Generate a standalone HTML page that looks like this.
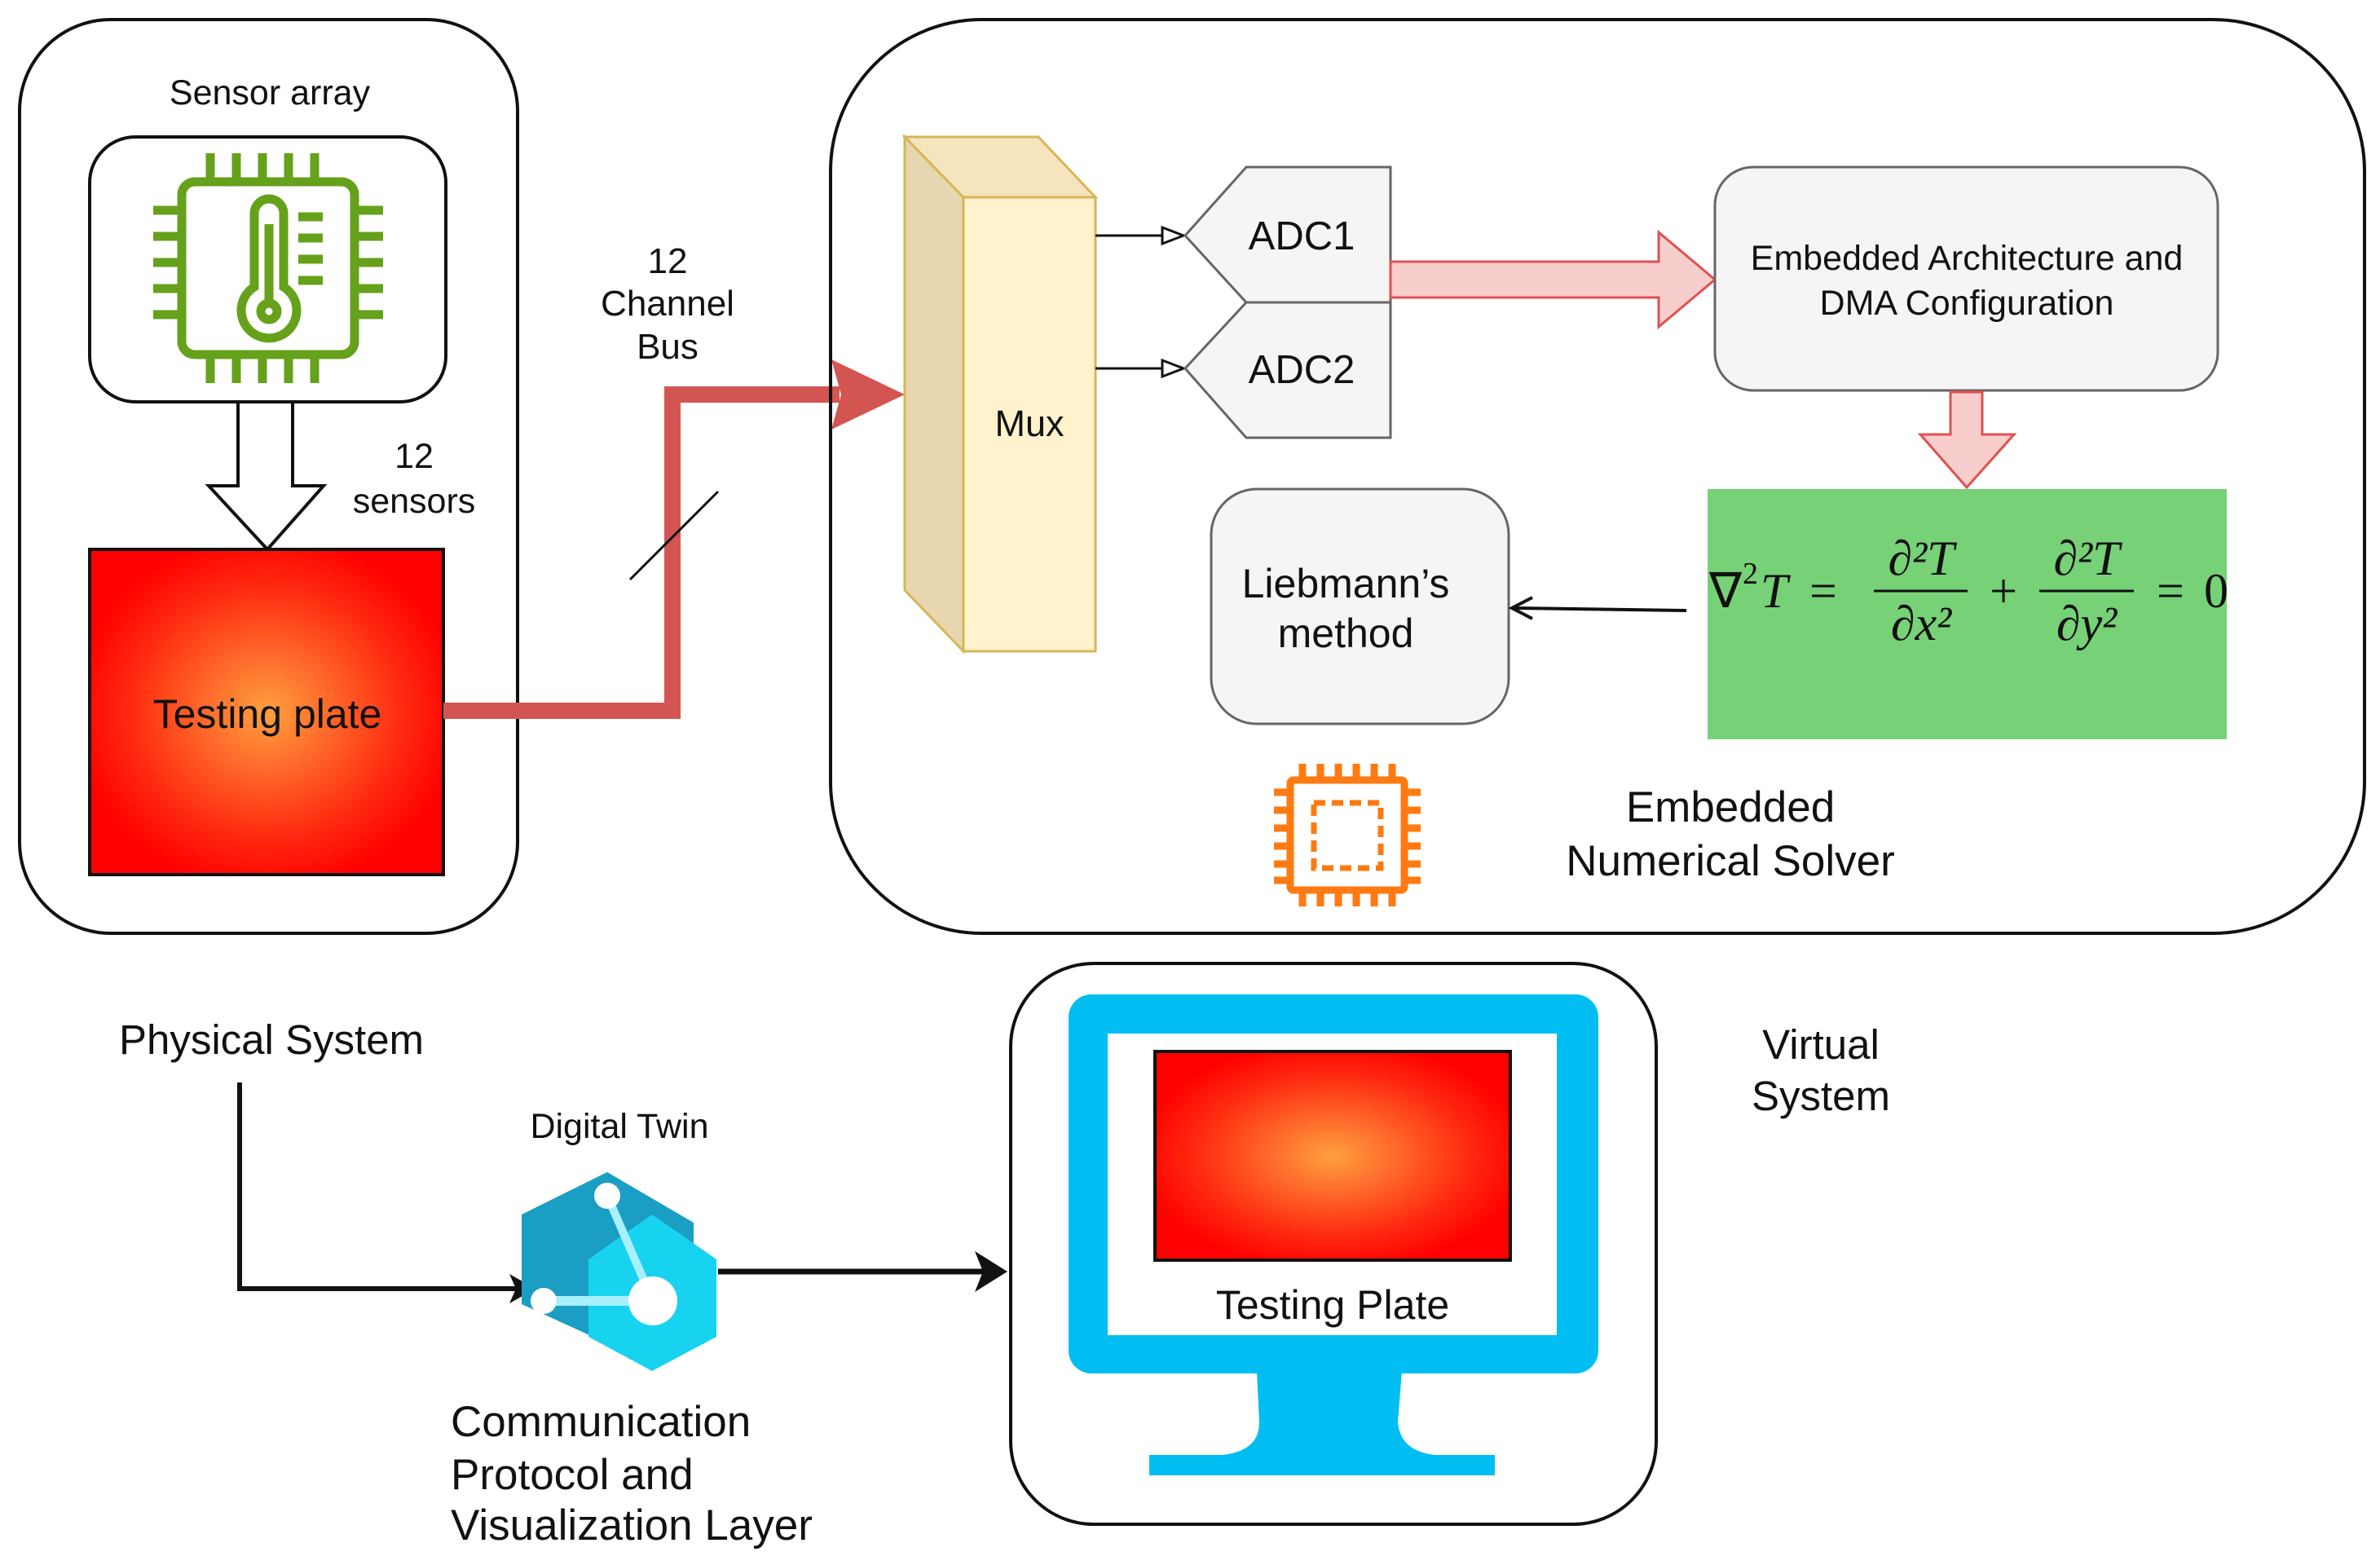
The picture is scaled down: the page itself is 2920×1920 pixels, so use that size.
<!DOCTYPE html>
<html><head><meta charset="utf-8"><style>
html,body{margin:0;padding:0;background:#fff;}
svg{display:block;}
text{font-family:"Liberation Sans",sans-serif;fill:#111;}
.m{font-family:"Liberation Serif",serif;font-style:italic;}
.r{font-family:"Liberation Serif",serif;}
</style></head><body>
<svg width="2920" height="1920" viewBox="0 0 2920 1920" xmlns="http://www.w3.org/2000/svg">
<defs>
<radialGradient id="hot" cx="50%" cy="50%" r="55%">
<stop offset="0" stop-color="#ffa040"/><stop offset="0.7" stop-color="#ff2a10"/><stop offset="1" stop-color="#ff0000"/>
</radialGradient>
</defs>

<!-- Left physical box -->
<rect x="24" y="24" width="611" height="1121" rx="112" fill="none" stroke="#111" stroke-width="4"/>
<text x="331" y="128" font-size="43" text-anchor="middle">Sensor array</text>
<rect x="110" y="168" width="437" height="325" rx="56" fill="#fff" stroke="#111" stroke-width="4"/>
<g stroke="#66a11b" stroke-width="11" fill="none">
<rect x="223" y="223" width="212" height="212" rx="16"/>
<path d="M258,188v35M290,188v35M322,188v35M354,188v35M386,188v35 M258,435v35M290,435v35M322,435v35M354,435v35M386,435v35 M188,258h35M188,290h35M188,322h35M188,354h35M188,386h35 M435,258h35M435,290h35M435,322h35M435,354h35M435,386h35"/>
<path d="M312,352 V262 a18,18 0 0 1 36,0 V352 a34,34 0 1 1 -36,0 z"/>
<circle cx="330" cy="382" r="10"/>
<path d="M330,370 V275"/>
<path d="M366,266h30M366,292h30M366,318h30M366,344h30"/>
</g>
<path d="M292,493 H359 V596 H397 L328,674 L256,596 H292 Z" fill="#fff" stroke="#111" stroke-width="4"/>
<text x="508" y="574" font-size="43" text-anchor="middle">12</text>
<text x="508" y="629" font-size="43" text-anchor="middle">sensors</text>
<rect x="110" y="674" width="434" height="399" fill="url(#hot)" stroke="#111" stroke-width="4"/>
<text x="328" y="893" font-size="50" text-anchor="middle">Testing plate</text>

<!-- red bus -->
<path d="M544,872 H825 V484 H1030" fill="none" stroke="#d35552" stroke-width="20"/>
<path d="M1020,441 L1110,484 L1020,527 L1032,484 Z" fill="#d35552"/>
<line x1="773" y1="711" x2="881" y2="603" stroke="#111" stroke-width="3"/>
<text x="819" y="335" font-size="44" text-anchor="middle">12</text>
<text x="819" y="387" font-size="44" text-anchor="middle">Channel</text>
<text x="819" y="440" font-size="44" text-anchor="middle">Bus</text>

<!-- Right box -->
<rect x="1019" y="24" width="1882" height="1121" rx="186" fill="none" stroke="#111" stroke-width="4"/>
<polygon points="1110,168 1182,242 1182,799 1110,724" fill="#e8d6b0" stroke="#d6b656" stroke-width="3"/>
<polygon points="1110,168 1274,168 1344,242 1182,242" fill="#f5e4bd" stroke="#d6b656" stroke-width="3"/>
<rect x="1182" y="242" width="162" height="557" fill="#fff2cc" stroke="#d6b656" stroke-width="3"/>
<text x="1263" y="535" font-size="45" text-anchor="middle">Mux</text>
<g stroke="#111" stroke-width="3">
<line x1="1344" y1="289" x2="1426" y2="289"/>
<line x1="1344" y1="452" x2="1426" y2="452"/>
</g>
<polygon points="1426,279 1452,289 1426,299" fill="#fff" stroke="#111" stroke-width="3"/>
<polygon points="1426,442 1452,452 1426,462" fill="#fff" stroke="#111" stroke-width="3"/>
<polygon points="1454,289 1529,205 1706,205 1706,371 1529,371" fill="#f5f5f5" stroke="#666" stroke-width="3"/>
<polygon points="1454,452 1529,371 1706,371 1706,537 1529,537" fill="#f5f5f5" stroke="#666" stroke-width="3"/>
<text x="1597" y="306" font-size="49" text-anchor="middle">ADC1</text>
<text x="1597" y="470" font-size="49" text-anchor="middle">ADC2</text>
<path d="M1706,321 H2035 V285 L2104,343 L2035,401 V365 H1706 Z" fill="#f8cecc" stroke="#e05050" stroke-width="3"/>
<rect x="2104" y="205" width="617" height="274" rx="47" fill="#f5f5f5" stroke="#666" stroke-width="3"/>
<text x="2413" y="331" font-size="43" text-anchor="middle">Embedded Architecture and</text>
<text x="2413" y="386" font-size="43" text-anchor="middle">DMA Configuration</text>
<path d="M2393,481 H2432 V533 H2471 L2413,598 L2356,533 H2393 Z" fill="#f8cecc" stroke="#e05050" stroke-width="3"/>
<rect x="2095" y="600" width="637" height="307" fill="#77d177"/>
<g font-size="60">
<text class="r" x="2097" y="745">∇</text>
<text class="r" x="2138" y="716" font-size="38">2</text>
<text class="m" x="2160" y="745">T</text>
<text class="r" x="2220" y="745">=</text>
<text class="m" x="2357" y="705" text-anchor="middle">∂²T</text>
<line x1="2299" y1="725" x2="2414" y2="725" stroke="#111" stroke-width="3"/>
<text class="m" x="2357" y="785" text-anchor="middle">∂x²</text>
<text class="r" x="2458" y="745" text-anchor="middle">+</text>
<text class="m" x="2560" y="705" text-anchor="middle">∂²T</text>
<line x1="2502" y1="725" x2="2618" y2="725" stroke="#111" stroke-width="3"/>
<text class="m" x="2560" y="785" text-anchor="middle">∂y²</text>
<text class="r" x="2646" y="745">=</text>
<text class="r" x="2704" y="745">0</text>
</g>
<rect x="1486" y="600" width="365" height="288" rx="56" fill="#f5f5f5" stroke="#666" stroke-width="3"/>
<text x="1651" y="733" font-size="50" text-anchor="middle">Liebmann’s</text>
<text x="1651" y="794" font-size="50" text-anchor="middle">method</text>
<line x1="2069" y1="749" x2="1858" y2="746" stroke="#111" stroke-width="4"/>
<path d="M1880,733 L1855,746 L1880,759" fill="none" stroke="#111" stroke-width="4"/>
<g stroke="#ff7a10" stroke-width="9" fill="none">
<rect x="1583" y="957" width="140" height="135" rx="4"/>
<rect x="1612" y="985" width="82" height="80" stroke-dasharray="14,8" stroke-width="7"/>
<path d="M1598,937v20M1620,937v20M1642,937v20M1664,937v20M1686,937v20M1708,937v20 M1598,1092v20M1620,1092v20M1642,1092v20M1664,1092v20M1686,1092v20M1708,1092v20 M1563,972h20M1563,994h20M1563,1016h20M1563,1038h20M1563,1060h20M1563,1080h20 M1723,972h20M1723,994h20M1723,1016h20M1723,1038h20M1723,1060h20M1723,1080h20"/>
</g>
<text x="2123" y="1008" font-size="53" text-anchor="middle">Embedded</text>
<text x="2123" y="1074" font-size="53" text-anchor="middle">Numerical Solver</text>

<!-- bottom -->
<text x="333" y="1293" font-size="51" text-anchor="middle">Physical System</text>
<path d="M294,1328 V1581 H640" fill="none" stroke="#111" stroke-width="6"/>
<path d="M625,1563 L657,1581 L625,1599 L633,1581 Z" fill="#111"/>
<text x="760" y="1396" font-size="43" text-anchor="middle">Digital Twin</text>
<polygon points="745,1438 851,1500 851,1620 745,1648 640,1600 640,1490" fill="#1a9ec4"/>
<polygon points="800,1490 879,1545 879,1640 800,1682 722,1640 722,1545" fill="#17d3f0"/>
<line x1="745" y1="1467" x2="801" y2="1596" stroke="#a8f0ff" stroke-width="10"/>
<line x1="667" y1="1596" x2="801" y2="1596" stroke="#a8f0ff" stroke-width="12"/>
<circle cx="745" cy="1467" r="16" fill="#fff"/>
<circle cx="667" cy="1596" r="16" fill="#fff"/>
<circle cx="801" cy="1596" r="30" fill="#fff"/>
<line x1="881" y1="1560" x2="1210" y2="1560" stroke="#111" stroke-width="7"/>
<path d="M1196,1535 L1236,1560 L1196,1585 L1206,1560 Z" fill="#111"/>
<text x="553" y="1762" font-size="53">Communication</text>
<text x="553" y="1827" font-size="53">Protocol and</text>
<text x="553" y="1889" font-size="53">Visualization Layer</text>

<rect x="1240" y="1182" width="792" height="688" rx="102" fill="none" stroke="#111" stroke-width="4"/>
<rect x="1311" y="1220" width="650" height="465" rx="28" fill="#00bef2"/>
<rect x="1359" y="1268" width="551" height="370" fill="#fff"/>
<path d="M1542,1682 H1720 L1715,1745 Q1718,1780 1760,1785 H1834 V1810 H1410 V1785 H1500 Q1545,1780 1545,1745 Z" fill="#00bef2"/>
<rect x="1417" y="1290" width="436" height="256" fill="url(#hot)" stroke="#111" stroke-width="4"/>
<text x="1635" y="1618" font-size="50" text-anchor="middle">Testing Plate</text>
<text x="2234" y="1299" font-size="51" text-anchor="middle">Virtual</text>
<text x="2234" y="1362" font-size="51" text-anchor="middle">System</text>
</svg>
</body></html>
